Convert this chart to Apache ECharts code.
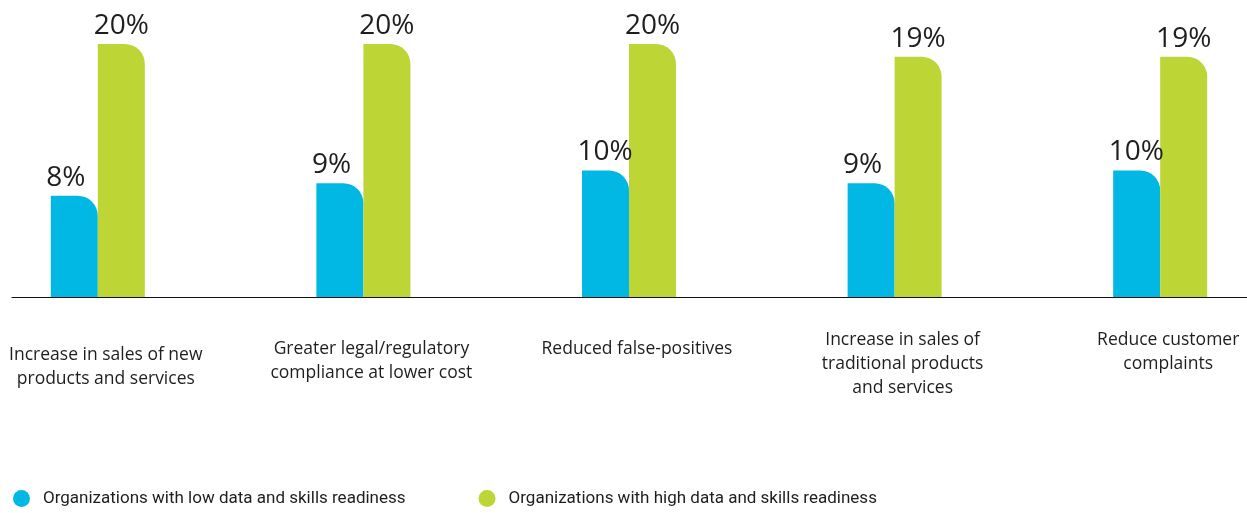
<!DOCTYPE html>
<html>
<head>
<meta charset="utf-8">
<script src="https://cdn.jsdelivr.net/npm/echarts@6/dist/echarts.min.js"></script>
<style>
  html, body { margin: 0; padding: 0; background: #fff; }
  #chart { width: 1247px; height: 513px; }
</style>
</head>
<body>
<div id="chart"></div>
<script>
const categories = [
  "Increase in sales of new\nproducts and services",
  "Greater legal/regulatory\ncompliance at lower cost",
  "Reduced false-positives",
  "Increase in sales of\ntraditional products\nand services",
  "Reduce customer\ncomplaints"
];
const lowReadiness = [8, 9, 10, 9, 10];
const highReadiness = [20, 20, 20, 19, 19];
const seriesNames = [
  "Organizations with low data and skills readiness",
  "Organizations with high data and skills readiness"
];
// extra top padding per category label (the original labels are not aligned)
const labelShift = [15, 9, 9, 0, 0];

const chart = echarts.init(document.getElementById("chart"));
const textColor = "#1e1e1e";
const labelFont = "'Open Sans', 'Noto Sans', sans-serif";

const valueLabel = {
  show: true,
  position: "top",
  distance: 4,
  formatter: "{c}%",
  fontFamily: labelFont,
  fontSize: 28,
  color: textColor
};

chart.setOption({
  animation: false,
  backgroundColor: "#fff",
  color: ["#00B8E3", "#BDD535"],
  grid: [
    { left: -35, right: -46, top: 44, bottom: 216, outerBoundsMode: "none", containLabel: false },
    // only carries the baseline, which is shorter than the category band
    { left: 12, right: 0, top: 296, bottom: 216, outerBoundsMode: "none" }
  ],
  xAxis: [
    {
      type: "category",
      gridIndex: 0,
      data: categories.map((c, i) => ({
        value: c,
        textStyle: { padding: [labelShift[i], 0, 0, 16] }
      })),
      axisLine: { show: false },
      axisTick: { show: false },
      axisLabel: {
        interval: 0,
        margin: 31,
        verticalAlign: "top",
        lineHeight: 24,
        fontFamily: labelFont,
        fontSize: 17.5,
        color: textColor
      }
    },
    {
      type: "value",
      gridIndex: 1,
      min: 0,
      max: 1,
      axisLine: { show: true, lineStyle: { color: "#111", width: 1.2 } },
      axisTick: { show: false },
      axisLabel: { show: false },
      splitLine: { show: false }
    }
  ],
  yAxis: [
    { type: "value", gridIndex: 0, min: 0, max: 20, show: false },
    { type: "value", gridIndex: 1, show: false }
  ],
  legend: {
    left: 13,
    top: 490,
    padding: 0,
    icon: "circle",
    itemWidth: 17,
    itemHeight: 17,
    itemGap: 73,
    formatter: "{t|{name}}",
    textStyle: {
      fontFamily: "Roboto, sans-serif",
      fontSize: 17,
      color: textColor,
      rich: { t: { padding: [0, 0, 0, 8], fontFamily: "Roboto, sans-serif", fontSize: 17, color: textColor } }
    },
    data: seriesNames
  },
  series: [
    {
      name: seriesNames[0],
      type: "bar",
      data: lowReadiness,
      barWidth: 47,
      barGap: "0%",
      itemStyle: { borderRadius: [0, 20, 0, 0] },
      label: { ...valueLabel, align: "left", offset: [-28, 0] }
    },
    {
      name: seriesNames[1],
      type: "bar",
      data: highReadiness,
      barWidth: 47,
      barGap: "0%",
      itemStyle: { borderRadius: [0, 20, 0, 0] },
      label: valueLabel
    }
  ]
});
</script>
</body>
</html>
